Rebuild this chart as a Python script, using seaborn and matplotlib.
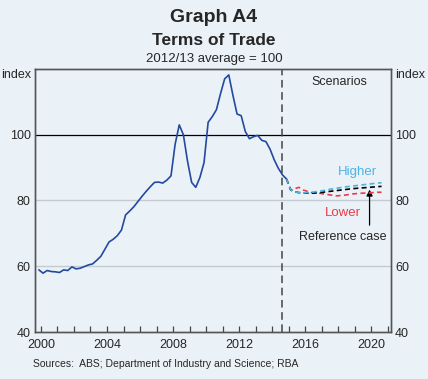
import pandas as pd
import numpy as np
import matplotlib
matplotlib.use("Agg")
import matplotlib.pyplot as plt
import seaborn as sns

# Terms of trade, quarterly (index, 2012/13 average = 100)
actual_x = [1999.875 + 0.25 * k for k in range(61)]
actual_y = [58.9, 57.9, 58.7, 58.4, 58.3, 58.1, 58.9, 58.7, 59.8, 59.2,
            59.4, 59.9, 60.4, 60.7, 61.8, 63.0, 65.2, 67.4, 68.2, 69.3,
            71.0, 75.6, 76.8, 78.1, 79.7, 81.3, 82.8, 84.2, 85.5, 85.6,
            85.3, 86.2, 87.5, 97.1, 103.0, 100.0, 92.0, 85.5, 84.0, 87.0,
            91.5, 103.8, 105.5, 107.6, 112.5, 117.0, 118.2, 112.0, 106.3, 105.8,
            101.0, 98.8, 99.4, 99.8, 98.3, 97.9, 95.6, 92.4, 89.8, 87.8,
            86.5]

# Scenarios
scen_x = [2014.875, 2015.125, 2015.375, 2015.625, 2015.875, 2016.375, 2016.875,
          2017.375, 2017.875, 2018.375, 2018.875, 2019.375, 2019.875, 2020.375, 2020.625]
higher = [86.5, 83.2, 82.6, 82.4, 82.3, 82.5, 82.8, 83.3, 83.7, 84.1, 84.4, 84.7, 85.0, 85.3, 85.4]
reference = [86.5, 83.2, 82.6, 82.4, 82.3, 82.2, 82.4, 82.7, 83.0, 83.3, 83.6, 83.8, 84.0, 84.2, 84.3]
lower = [86.5, 83.2, 83.6, 84.0, 83.2, 82.4, 82.2, 81.8, 81.4, 81.6, 82.0, 82.2, 82.3, 82.5, 82.5]

y_ticks = [40, 60, 80, 100, 120]
y_labels = ["40", "60", "80", "100", "index"]
x_labels = [2000, 2004, 2008, 2012, 2016, 2020]

bg = "#eaf2f7"
dark_blue = "#2349a0"
light_blue = "#4db3e6"
red = "#ee3a4a"

sns.set_style("white", rc={"axes.facecolor": bg, "figure.facecolor": bg})
plt.rcParams["font.family"] = ["Liberation Sans", "DejaVu Sans"]

fig = plt.figure(figsize=(4.28, 3.79), dpi=100)
ax = fig.add_axes([0.0818, 0.124, 0.8318, 0.694])

# gridlines
for v in [60, 80]:
    ax.axhline(v, color="#c3cbd0", lw=1, zorder=1)
ax.axhline(100, color="black", lw=0.9, zorder=1)
ax.axvline(2014.6, color="#444444", lw=1.1, dashes=(5, 3), zorder=2)

actual = pd.DataFrame({"date": actual_x, "value": actual_y})
sns.lineplot(data=actual, x="date", y="value", color=dark_blue, lw=1.2, ax=ax, zorder=4)

scen = pd.DataFrame({
    "date": scen_x * 3,
    "value": lower + reference + higher,
    "case": ["Lower"] * len(scen_x) + ["Reference"] * len(scen_x) + ["Higher"] * len(scen_x),
})
sns.lineplot(data=scen, x="date", y="value", hue="case", style="case",
             hue_order=["Lower", "Reference", "Higher"],
             style_order=["Lower", "Reference", "Higher"],
             palette={"Higher": light_blue, "Lower": red, "Reference": "black"},
             dashes={"Higher": (3, 2), "Lower": (3, 2), "Reference": (3, 2)},
             lw=1.2, ax=ax, legend=False, zorder=5)

ax.set_xlim(1999.64, 2021.2)
ax.set_ylim(40, 120)
ax.set_xlabel("")
ax.set_ylabel("")
ax.set_xticks(range(2000, 2022), minor=False)
ax.set_xticklabels([str(y) if y in x_labels else "" for y in range(2000, 2022)])
ax.set_yticks(y_ticks)
ax.set_yticklabels(y_labels)
ax.tick_params(axis="x", direction="in", length=4, width=0.9, color="#444444",
               pad=5, labelsize=9, bottom=True)
ax.tick_params(axis="y", length=0, pad=3, labelsize=9)
ax.get_yticklabels()[-1].set_va("top")

ax2 = ax.twinx()
ax2.set_ylim(40, 120)
ax2.set_yticks(y_ticks)
ax2.set_yticklabels(y_labels)
ax2.tick_params(axis="y", length=0, pad=3, labelsize=9)
ax2.get_yticklabels()[-1].set_va("top")

for a in (ax, ax2):
    for s in a.spines.values():
        s.set_color("#555555")
        s.set_linewidth(1.0)
        s.set_visible(True)

ax.text(2018.1, 116.0, "Scenarios", ha="center", va="center", fontsize=9)
ax.text(2019.15, 88.7, "Higher", ha="center", va="center", fontsize=9.5, color=light_blue)
ax.text(2018.28, 76.2, "Lower", ha="center", va="center", fontsize=9.5, color=red)
ax.text(2018.28, 68.9, "Reference case", ha="center", va="center", fontsize=9)
ax.annotate("", xy=(2019.9, 83.3), xytext=(2019.9, 72.5),
            arrowprops=dict(arrowstyle="-|>", color="black", lw=0.9,
                            mutation_scale=9, shrinkA=0, shrinkB=0))

fig.text(0.5, 0.955, "Graph A4", ha="center", va="center", fontsize=14, fontweight="bold")
fig.text(0.5, 0.894, "Terms of Trade", ha="center", va="center", fontsize=12.5, fontweight="bold")
fig.text(0.5, 0.844, "2012/13 average = 100", ha="center", va="center", fontsize=9.5)
fig.text(0.077, 0.04, "Sources:  ABS; Department of Industry and Science; RBA",
         ha="left", va="center", fontsize=7.5)

fig.savefig("out.png", dpi=100, facecolor=bg)
